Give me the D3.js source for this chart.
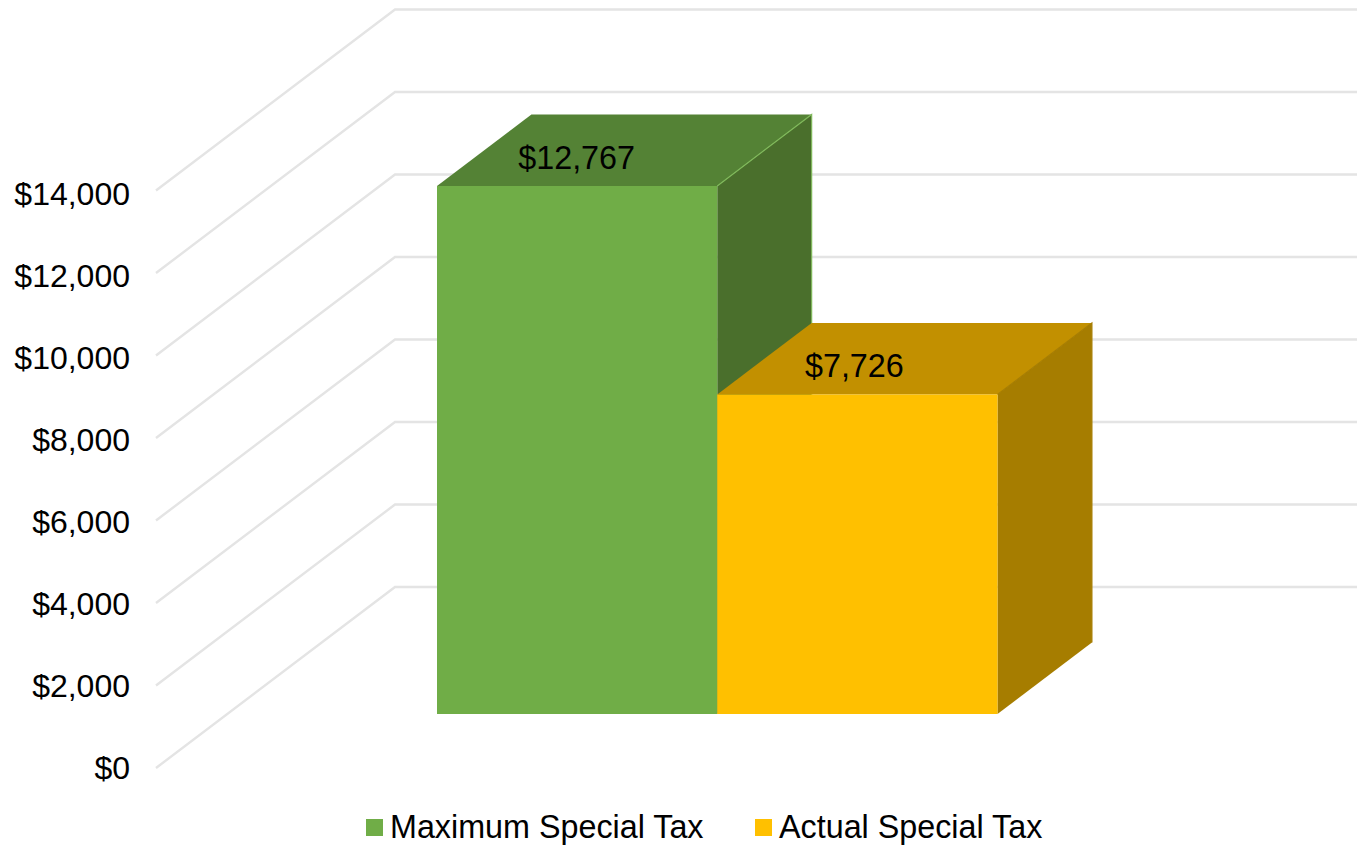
<!DOCTYPE html>
<html>
<head>
<meta charset="utf-8">
<script src="https://cdn.jsdelivr.net/npm/d3@7"></script>
<style>
  html, body { margin: 0; padding: 0; background: #fff; }
  svg { display: block; }
  text { font-family: "Liberation Sans", Arial, sans-serif; font-size: 32.3px; fill: #000; }
  #yAxisG text { font-size: 32px; }
</style>
</head>
<body>
<svg id="chart" width="1357" height="846"></svg>
<script>
const categories = ['Maximum Special Tax', 'Actual Special Tax'];
const values = [12767, 7726];
const labels = ['$12,767', '$7,726'];
const tickValues = [0, 2000, 4000, 6000, 8000, 10000, 12000, 14000];
const frontColors = ['#70ad47', '#ffc000'];
const topColors = ['#548235', '#c29000'];
const sideColors = ['#4a6f2c', '#a67d00'];
const edgeColors = ['#7fb85a', '#a67d00'];

const svg = d3.select('#chart');

let yScale = d3.scaleLinear().domain([0, 14000]).range([768, 190.5]);
// the axis labels and the bars each run a little off the grid spacing in the original
let labelScale = d3.scaleLinear().domain([0, 14000]).range([768.5, 194.5]);
let barScale = d3.scaleLinear().domain([0, 14000]).range([714, 135]);
let xScale = d3.scaleBand().domain(categories).range([437, 997.5]).padding(0);

// depth runs from the front of the floor (0) to the back wall (1)
let depthX = d3.scaleLinear().domain([0, 1]).range([0, 239]);
let depthY = d3.scaleLinear().domain([0, 1]).range([0, -181]);
const barDepth = 0.395;
const wallRight = 1357;
const floorLeft = 156;

let line = d3.line();

// walls
let grid = svg.append('g').attr('id', 'gridG');
grid.selectAll('path')
  .data(tickValues)
  .enter()
  .append('path')
  .attr('fill', 'none')
  .attr('stroke', '#e4e4e4')
  .attr('stroke-width', 2.4)
  .attr('d', d => line([
    [floorLeft, yScale(d)],
    [floorLeft + depthX(1), yScale(d) + depthY(1)],
    [wallRight, yScale(d) + depthY(1)]
  ]));

// y axis labels only
let yAxis = d3.axisLeft(labelScale).tickValues(tickValues).tickSize(0).tickPadding(0)
  .tickFormat(d3.format('$,'));
let yAxisG = svg.append('g').attr('id', 'yAxisG')
  .attr('transform', 'translate(130, 0)')
  .call(yAxis);
yAxisG.select('.domain').remove();
yAxisG.selectAll('text').attr('dy', '0.32em');
yAxisG.attr('font-size', null).attr('font-family', null);

// one box per category: side, top, then front
const backOff = [depthX(barDepth), depthY(barDepth)];
const bottomY = barScale(0);

let boxes = svg.selectAll('g.box')
  .data(categories)
  .enter()
  .append('g')
  .attr('class', 'box');

boxes.append('path')
  .attr('fill', (d, i) => sideColors[i])
  .attr('d', (d, i) => {
    let x1 = xScale(d) + xScale.bandwidth();
    let top = barScale(values[i]);
    return line([
      [x1, top],
      [x1 + backOff[0], top + backOff[1]],
      [x1 + backOff[0], bottomY + backOff[1]],
      [x1, bottomY]
    ]) + 'Z';
  });

boxes.append('path')
  .attr('fill', (d, i) => topColors[i])
  .attr('d', (d, i) => {
    let x0 = xScale(d);
    let x1 = x0 + xScale.bandwidth();
    let top = barScale(values[i]);
    return line([
      [x0, top],
      [x1, top],
      [x1 + backOff[0], top + backOff[1]],
      [x0 + backOff[0], top + backOff[1]]
    ]) + 'Z';
  });

boxes.append('path')
  .attr('fill', 'none')
  .attr('stroke', (d, i) => edgeColors[i])
  .attr('stroke-width', 1.2)
  .attr('d', (d, i) => {
    let x1 = xScale(d) + xScale.bandwidth();
    let top = barScale(values[i]);
    return line([
      [x1, top],
      [x1 + backOff[0], top + backOff[1]],
      [x1 + backOff[0], bottomY + backOff[1]]
    ]);
  });

boxes.append('rect')
  .attr('fill', (d, i) => frontColors[i])
  .attr('x', d => xScale(d))
  .attr('width', xScale.bandwidth())
  .attr('y', (d, i) => barScale(values[i]))
  .attr('height', (d, i) => barScale(0) - barScale(values[i]));

// data labels sit on the top face
boxes.append('text')
  .attr('text-anchor', 'middle')
  .attr('x', (d, i) => xScale(d) + xScale.bandwidth() / 2 + [-0.5, -3][i])
  .attr('y', (d, i) => barScale(values[i]) - 17)
  .text((d, i) => labels[i]);

// legend
const legendSwatchX = [366, 755];
let legend = svg.selectAll('g.legend')
  .data(categories)
  .enter()
  .append('g')
  .attr('class', 'legend')
  .attr('transform', (d, i) => `translate(${legendSwatchX[i]}, 819)`);

legend.append('rect')
  .attr('width', 17)
  .attr('height', 17)
  .attr('fill', (d, i) => frontColors[i]);

legend.append('text')
  .attr('x', 24)
  .attr('y', 19)
  .text(d => d);
</script>
</body>
</html>
